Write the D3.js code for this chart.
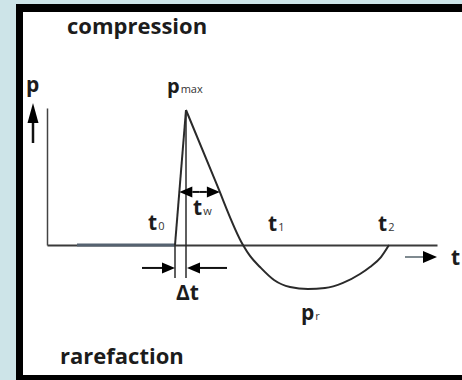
<!DOCTYPE html>
<html>
<head>
<meta charset="utf-8">
<script src="https://cdn.jsdelivr.net/npm/d3@7"></script>
<style>
  body { margin: 0; background: #cde4e8; overflow: hidden; }
  svg { display: block; }
  text { font-family: "Open Sans", sans-serif; font-weight: 700; fill: #1c1c1c; }
  .sub { font-size: 11px; font-weight: 400; fill: #333; }
</style>
</head>
<body>
<div id="chart"></div>
<script>
const width = 462;
const height = 380;

// pressure-time history (time in arbitrary units, pressure relative to p_max)
const preTime = [-9.8, 0];
const preP = [0, 0];
const riseTime = [0, 1.1];
const riseP = [0, 1];
const decayTime = [1.1, 4.0, 6.8, 7.5, 8.5, 9.9, 11.5, 13.3, 15.0, 16.8, 18.5, 19.5, 20.6, 21.4];
const decayP = [1, 0.48, 0, -0.081, -0.163, -0.259, -0.311, -0.326, -0.319, -0.281, -0.215, -0.163, -0.089, 0];

// characteristic times
const eventNames = ["t0", "tmax", "t1", "t2"];
const eventTimes = [0, 1.1, 6.8, 21.4];
const minPressure = -0.326;

const svg = d3.select("#chart")
    .append("svg")
    .attr("width", width)
    .attr("height", height);

// frame (open on the right)
svg.append("rect").attr("x", 23).attr("y", 12).attr("width", width).attr("height", 363).attr("fill", "#fff");
svg.append("rect").attr("x", 16).attr("y", 4).attr("width", 7).attr("height", height).attr("fill", "#000");
svg.append("rect").attr("x", 16).attr("y", 4).attr("width", width).attr("height", 8).attr("fill", "#000");
svg.append("rect").attr("x", 16).attr("y", 375).attr("width", width).attr("height", 5).attr("fill", "#000");

//scales
const x = d3.scaleLinear().domain([-12.8, 26.2]).range([47, 437]);
const y = d3.scaleLinear().domain([0, 1]).range([245, 110]);
const pAxisTop = 1.015;

const line = d3.line().x(d => x(d[0])).y(d => y(d[1]));
const curve = d3.line().x(d => x(d[0])).y(d => y(d[1])).curve(d3.curveMonotoneX);

//axes (no ticks)
const xAxis = svg.append("g")
    .attr("transform", `translate(0,${y(0)})`)
    .call(d3.axisBottom(x).tickValues([]).tickSizeOuter(0));
xAxis.select(".domain").attr("stroke", "#3a3a3a").attr("stroke-width", 2);

const yAxis = svg.append("g")
    .attr("transform", `translate(${x.range()[0]},0)`)
    .call(d3.axisLeft(y.copy().domain([0, pAxisTop]).range([y(0), y(pAxisTop)])).tickValues([]).tickSizeOuter(0));
yAxis.select(".domain").attr("stroke", "#444").attr("stroke-width", 1.5);

// pre-arrival ambient level
svg.append("path")
    .datum(preTime.map((t, i) => [t, preP[i]]))
    .attr("d", line)
    .attr("fill", "none")
    .attr("stroke", "#556270")
    .attr("stroke-width", 3);

// rise and decay
svg.append("path")
    .datum(riseTime.map((t, i) => [t, riseP[i]]))
    .attr("d", line)
    .attr("fill", "none")
    .attr("stroke", "#2a2a2a")
    .attr("stroke-width", 2);

svg.append("path")
    .datum(decayTime.map((t, i) => [t, decayP[i]]))
    .attr("d", curve)
    .attr("fill", "none")
    .attr("stroke", "#2a2a2a")
    .attr("stroke-width", 2);

// arrow helper: line from (x1,y1) to tip (x2,y2) with filled head
function arrow(x1, y1, x2, y2, opts = {}) {
    const len = opts.len || 13, half = opts.half || 5;
    const ang = Math.atan2(y2 - y1, x2 - x1);
    const bx = x2 - len * Math.cos(ang), by = y2 - len * Math.sin(ang);
    svg.append("line")
        .attr("x1", x1).attr("y1", y1).attr("x2", bx).attr("y2", by)
        .attr("stroke", opts.color || "#111").attr("stroke-width", opts.width || 2);
    const px = -Math.sin(ang) * half, py = Math.cos(ang) * half;
    svg.append("path")
        .attr("d", `M${x2},${y2}L${bx + px},${by + py}L${bx - px},${by - py}Z`)
        .attr("fill", "#000");
}

// Δt markers
const tMax = eventTimes[1];
const markP = -0.245;
svg.append("line")
    .attr("x1", x(eventTimes[0])).attr("x2", x(eventTimes[0]))
    .attr("y1", y(0)).attr("y2", y(markP))
    .attr("stroke", "#2a2a2a").attr("stroke-width", 1.5);
svg.append("line")
    .attr("x1", x(tMax)).attr("x2", x(tMax))
    .attr("y1", y(1)).attr("y2", y(markP))
    .attr("stroke", "#2a2a2a").attr("stroke-width", 1.5);

const dtP = -0.17;
arrow(x(-3.3), y(dtP), x(eventTimes[0]), y(dtP), { half: 5.5 });
arrow(x(5.2), y(dtP), x(tMax) + 1, y(dtP), { half: 5.5 });

// t_w double arrow between rise and decay
const twP = 0.393;
const twLeft = riseTime[0] + (riseTime[1] - riseTime[0]) * twP;
const twRight = decayTime[0] + (decayTime[1] - decayTime[0]) * (decayP[0] - twP) / (decayP[0] - decayP[1]);
const twMid = (x(twLeft) + x(twRight)) / 2;
arrow(twMid, y(twP), x(twLeft), y(twP), { half: 5.5 });
arrow(twMid, y(twP), x(twRight), y(twP), { half: 5.5 });

// axis direction arrows
arrow(x.range()[0] - 14, y(0) - 102, x.range()[0] - 14, y(0) - 142, { len: 20, half: 5.5, width: 2.5 });
arrow(x.range()[1] - 32, y(0) + 12, x.range()[1], y(0) + 12, { len: 14, half: 6, color: "#7f8a90" });

// labels
function label(px, py, main, sub, size = 21) {
    const t = svg.append("text").attr("x", px).attr("y", py).style("font-size", size + "px").text(main);
    if (sub) t.append("tspan").attr("class", "sub").attr("dx", 1).text(sub);
    return t;
}

label(67, 34, "compression", null, 22);
label(60, 364, "rarefaction", null, 22);
label(26, 92, "p");
label(x(tMax) - 19, 93, "p", "max", 20);
label(x(eventTimes[0]) - 27, 230, "t", "0");
label(x(tMax) + 7, 215, "t", "w");
label(x(eventTimes[2]) + 25, 231, "t", "1");
label(x(eventTimes[3]) - 11, 231, "t", "2");
label(x(eventTimes[0]) + 1, 300, "\u0394t");
label(x(13.3) - 7, y(minPressure) + 31, "p", "r");
label(451, 265, "t");
</script>
</body>
</html>
